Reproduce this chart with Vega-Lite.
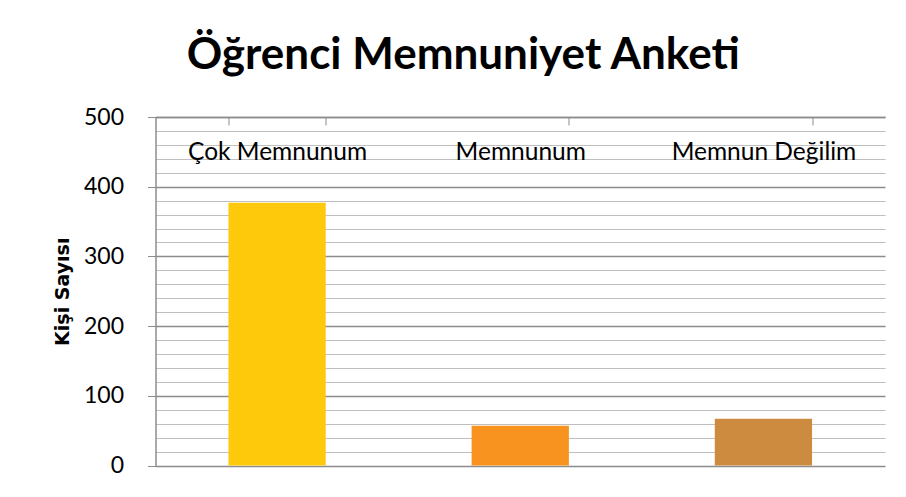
{
  "$schema": "https://vega.github.io/schema/vega-lite/v6.json",
  "autosize": "none",
  "width": 729.5,
  "height": 348.5,
  "padding": {"left": 155.5, "top": 117, "right": 21, "bottom": 31.5},
  "background": "white",
  "title": {
    "text": "Öğrenci Memnuniyet Anketi",
    "font": "Lato",
    "fontSize": 44,
    "fontWeight": "bold",
    "color": "black",
    "anchor": "middle",
    "frame": "group",
    "baseline": "alphabetic",
    "dx": -57,
    "offset": -7
  },
  "data": {
    "values": [
      {"kategori": "Çok Memnunum", "kisi": 377},
      {"kategori": "Memnunum", "kisi": 57},
      {"kategori": "Memnun Değilim", "kisi": 67}
    ]
  },
  "mark": {"type": "bar"},
  "encoding": {
    "x": {
      "field": "kategori",
      "type": "nominal",
      "sort": null,
      "scale": {"paddingInner": 0.6, "paddingOuter": 0.3},
      "axis": {
        "orient": "bottom",
        "offset": -348.5,
        "title": null,
        "labelAngle": 0,
        "labelFont": "Lato",
        "labelFontSize": 24.5,
        "labelColor": "black",
        "labelBaseline": "alphabetic",
        "labelPadding": 34,
        "labelLimit": 0,
        "tickBand": "extent",
        "tickSize": 8,
        "tickColor": "#8c8c8c",
        "domainColor": "#8c8c8c",
        "domainWidth": 1.5,
        "grid": false
      }
    },
    "y": {
      "field": "kisi",
      "type": "quantitative",
      "scale": {"domain": [0, 500], "nice": false},
      "axis": {
        "title": "Kişi Sayısı",
        "titleFont": "DejaVu Sans",
        "titleFontSize": 19,
        "titleFontWeight": "bold",
        "titleColor": "black",
        "titlePadding": 11,
        "values": [0, 20, 40, 60, 80, 100, 120, 140, 160, 180, 200, 220, 240, 260, 280, 300, 320, 340, 360, 380, 400, 420, 440, 460, 480, 500],
        "labelExpr": "datum.value % 100 === 0 ? datum.label : ''",
        "labelFont": "Lato",
        "labelFontSize": 23,
        "labelColor": "black",
        "labelPadding": 24,
        "tickSize": 8,
        "tickColor": {"condition": {"test": "datum.value % 100 === 0", "value": "#8c8c8c"}, "value": "transparent"},
        "domainColor": "#8c8c8c",
        "domainWidth": 1.5,
        "grid": true,
        "gridColor": {"condition": {"test": "datum.value % 100 === 0", "value": "#8c8c8c"}, "value": "#bfbfbf"},
        "gridWidth": {"condition": {"test": "datum.value % 100 === 0", "value": 1.5}, "value": 1.2}
      }
    },
    "color": {
      "field": "kategori",
      "type": "nominal",
      "sort": null,
      "scale": {"domain": ["Çok Memnunum", "Memnunum", "Memnun Değilim"], "range": ["#ffc90b", "#f7931e", "#cd8b3f"]},
      "legend": null
    }
  },
  "config": {"view": {"stroke": null}}
}
